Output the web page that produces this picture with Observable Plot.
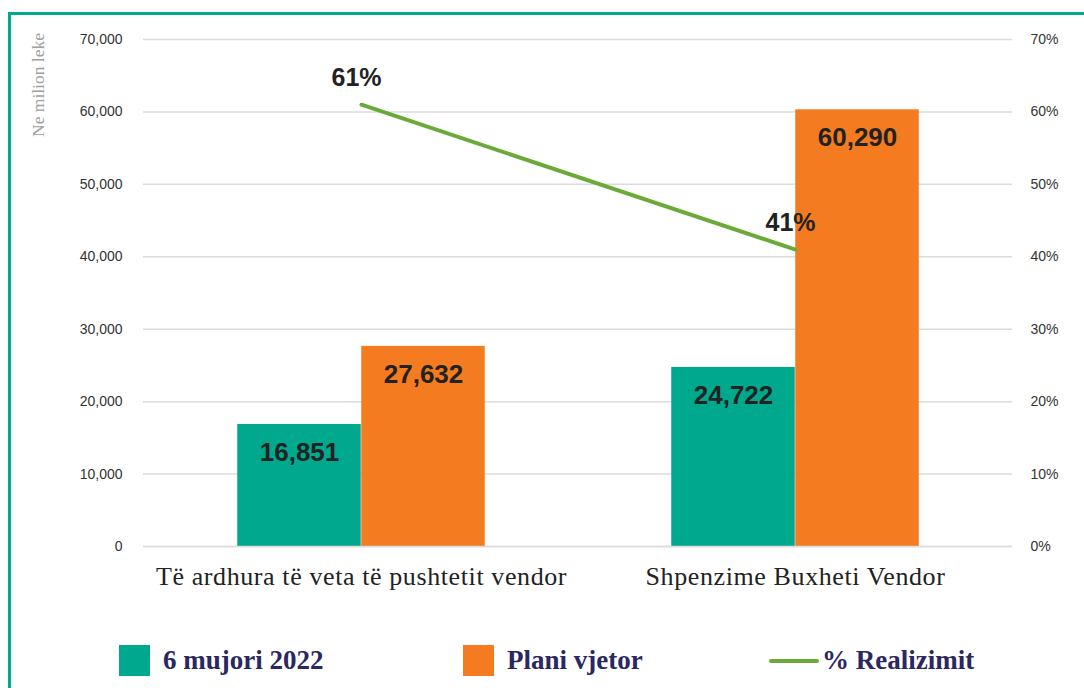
<!DOCTYPE html>
<html>
<head>
<meta charset="utf-8">
<script src="https://cdn.jsdelivr.net/npm/d3@7"></script>
<script src="https://cdn.jsdelivr.net/npm/@observablehq/plot@0.6"></script>
<style>
  html, body { margin: 0; padding: 0; background: #fff; }
  body { width: 1084px; height: 688px; position: relative; overflow: hidden; }
  #frame { position: absolute; left: 8px; top: 12px; width: 1100px; height: 700px;
           border-left: 3px solid #00a88e; border-top: 3px solid #00a88e; box-sizing: border-box; }
  #chart { position: absolute; left: 0; top: 0; }
  #ylab { position: absolute; left: 38px; top: 85px; transform: translate(-50%, -50%) rotate(-90deg);
          font-family: "Liberation Serif", serif; font-size: 17.5px; color: #a0a0a0; white-space: nowrap; }
  .leg { position: absolute; top: 645px; height: 31px; display: flex; align-items: center;
         font-family: "Liberation Serif", serif; font-weight: bold; font-size: 27px; color: #2a2761; white-space: nowrap; }
  .sw { width: 31px; height: 31px; margin-right: 13px; }
  .ln { width: 50px; height: 4px; border-radius: 2px; background: #6aaa3a; margin-right: 3px; }
</style>
</head>
<body>
<div id="frame"></div>
<div id="chart"></div>
<div id="ylab">Ne milion leke</div>
<div class="leg" style="left:119px"><div class="sw" style="background:#00a88e"></div><span>6 mujori 2022</span></div>
<div class="leg" style="left:463px"><div class="sw" style="background:#f47b20"></div><span>Plani vjetor</span></div>
<div class="leg" style="left:769px"><div class="ln"></div><span>% Realizimit</span></div>
<script>
const categories = ["Të ardhura të veta të pushtetit vendor", "Shpenzime Buxheti Vendor"];
const actual = [16851, 24722];      // 6 mujori 2022
const plan = [27632, 60290];        // Plani vjetor
const realization = [61, 41];       // % Realizimit
const yTicks = [0, 10000, 20000, 30000, 40000, 50000, 60000, 70000];

const teal = "#00a88e", orange = "#f47b20", green = "#6aaa3a";

const rows = categories.map((c, i) => ({cat: c, actual: actual[i], plan: plan[i], pct: realization[i], pctY: realization[i] * 1000}));

const bandW = (1012 - 143) / categories.length;
const barW = 124;
const outer = (bandW - 2 * barW) / 2;
const fmt = d3.format(",");

const chart = Plot.plot({
  width: 1084,
  height: 610,
  marginLeft: 143,
  marginRight: 72,
  marginTop: 39,
  marginBottom: 64,
  x: {domain: categories, padding: 0, label: null},
  y: {domain: [0, 70000], label: null},
  style: {background: "transparent"},
  marks: [
    Plot.gridY(yTicks, {stroke: "#dcdcdc", strokeOpacity: 1, strokeWidth: 1.5}),
    Plot.barY(rows, {x: "cat", y: "actual", fill: teal, insetLeft: outer, insetRight: outer + barW}),
    Plot.barY(rows, {x: "cat", y: "plan", fill: orange, insetLeft: outer + barW, insetRight: outer}),
    Plot.text(rows, {x: "cat", y: "actual", text: d => fmt(d.actual), dx: -barW / 2, dy: 28,
      fill: "#222", fontSize: 26, fontWeight: "bold", fontFamily: "Liberation Sans, Arial, sans-serif"}),
    Plot.text(rows, {x: "cat", y: "plan", text: d => fmt(d.plan), dx: barW / 2, dy: 28,
      fill: "#222", fontSize: 26, fontWeight: "bold", fontFamily: "Liberation Sans, Arial, sans-serif"}),
    Plot.line(rows, {x: "cat", y: "pctY", stroke: green, strokeWidth: 4}),
    Plot.text(rows, {x: "cat", y: "pctY", text: d => d.pct + "%", dx: -5, dy: -27,
      fill: "#222", fontSize: 25, fontWeight: "bold", fontFamily: "Liberation Sans, Arial, sans-serif"}),
    Plot.axisY(yTicks, {anchor: "left", tickSize: 0, tickPadding: 21, tickFormat: d => fmt(d),
      fontSize: 14, fill: "#333", fontFamily: "Liberation Sans, Arial, sans-serif", label: null}),
    Plot.axisY(yTicks, {anchor: "right", tickSize: 0, tickPadding: 18, tickFormat: d => (d / 1000) + "%",
      fontSize: 14, fill: "#333", fontFamily: "Liberation Sans, Arial, sans-serif", label: null}),
    Plot.axisX({anchor: "bottom", tickSize: 0, tickPadding: 20, fontSize: 26, fill: "#222",
      fontFamily: "Liberation Serif, serif", label: null}),
    Plot.ruleY([0], {stroke: "#dcdcdc", strokeWidth: 1.5})
  ]
});
chart.querySelectorAll("[aria-label='x-axis tick label'] text").forEach(t => t.style.letterSpacing = "0.6px");
document.getElementById("chart").appendChild(chart);
</script>
</body>
</html>
